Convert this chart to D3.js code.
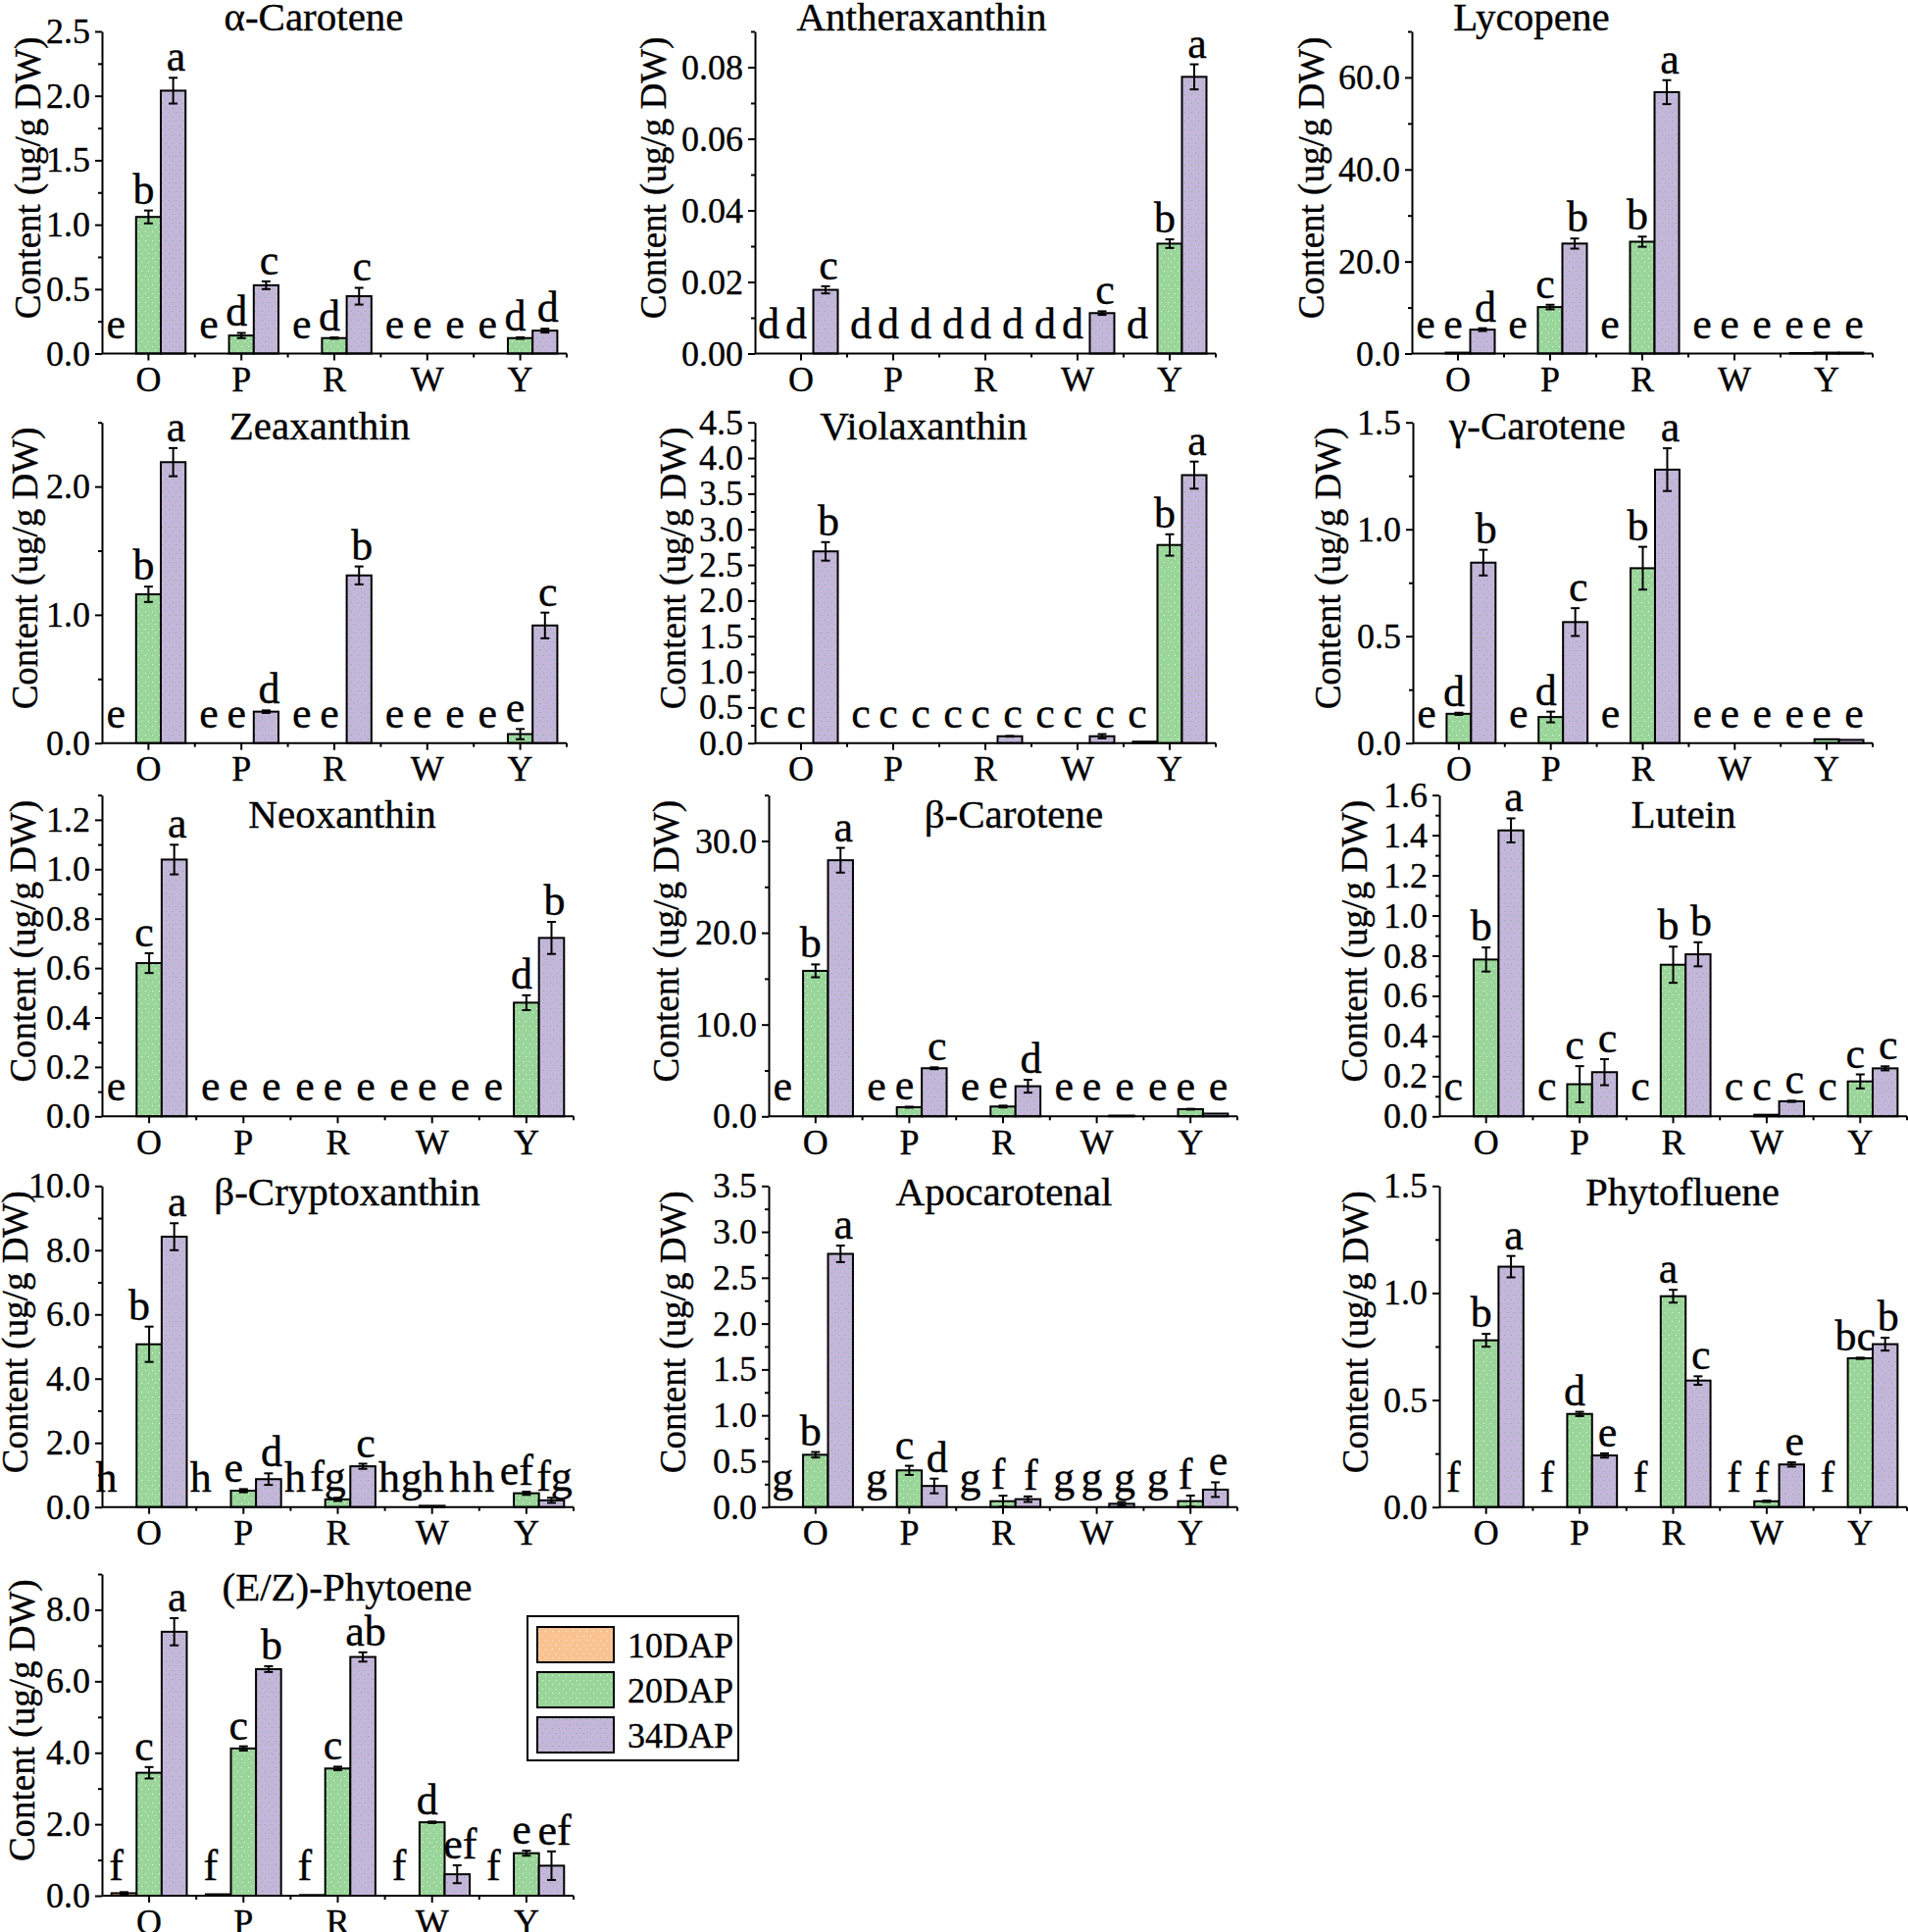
<!DOCTYPE html>
<html><head><meta charset="utf-8">
<script src="https://cdn.jsdelivr.net/npm/d3@7"></script>
<style>
body{margin:0;background:#fff}
svg{display:block}
text{font-family:"Liberation Serif","Times New Roman",serif;fill:#000;stroke:#000;stroke-width:0.35px}
</style>
</head><body>
<svg id="chart" width="1946" height="1970"></svg>
<script>
// ---------------- DATA ----------------
const categories = ["O","P","R","W","Y"];
const seriesNames = ["10DAP","20DAP","34DAP"];
const panelTitles = ["α-Carotene","Antheraxanthin","Lycopene","Zeaxanthin","Violaxanthin","γ-Carotene",
  "Neoxanthin","β-Carotene","Lutein","β-Cryptoxanthin","Apocarotenal","Phytofluene","(E/Z)-Phytoene"];
const yMaxes = [2.5, 0.09, 70, 2.5, 4.5, 1.5, 1.3, 35, 1.6, 10, 3.5, 1.5, 9];
const yTickLabels = [
  ["0.0","0.5","1.0","1.5","2.0","2.5"],
  ["0.00","0.02","0.04","0.06","0.08"],
  ["0.0","20.0","40.0","60.0"],
  ["0.0","1.0","2.0"],
  ["0.0","0.5","1.0","1.5","2.0","2.5","3.0","3.5","4.0","4.5"],
  ["0.0","0.5","1.0","1.5"],
  ["0.0","0.2","0.4","0.6","0.8","1.0","1.2"],
  ["0.0","10.0","20.0","30.0"],
  ["0.0","0.2","0.4","0.6","0.8","1.0","1.2","1.4","1.6"],
  ["0.0","2.0","4.0","6.0","8.0","10.0"],
  ["0.0","0.5","1.0","1.5","2.0","2.5","3.0","3.5"],
  ["0.0","0.5","1.0","1.5"],
  ["0.0","2.0","4.0","6.0","8.0"]
];
const yMinorSteps = [0.25, 0.01, 10, 0.5, 0.25, 0.25, 0.1, 5, 0.1, 1, 0.25, 0.25, 1];

// values per panel, per category O,P,R,W,Y
const values10 = [
  [0,0,0,0,0],[0,0,0,0,0],[0,0,0,0,0.1],[0,0,0,0,0],[0,0,0,0,0.02],[0,0,0,0,0],
  [0,0,0,0,0],[0,0,0,0,0],[0,0,0,0,0],[0,0,0,0,0],[0,0,0,0,0],[0,0,0,0,0],
  [0.07,0.04,0.02,0,0]
];
const values20 = [
  [1.06,0.14,0.12,0,0.12],
  [0,0,0,0,0.0307],
  [0.2,10.1,24.3,0,0.2],
  [1.16,0,0,0,0.07],
  [0,0,0,0,2.78],
  [0.137,0.122,0.818,0,0.018],
  [0.62,0,0,0,0.46],
  [15.85,1.0,1.07,0,0.78],
  [0.781,0.16,0.755,0.008,0.174],
  [5.07,0.51,0.24,0.04,0.43],
  [0.57,0.40,0.064,0,0.065],
  [0.779,0.435,0.985,0.027,0.695],
  [3.44,4.12,3.56,2.055,1.19]
];
const values34 = [
  [2.04,0.53,0.445,0,0.178],
  [0.0178,0,0,0.0113,0.0773],
  [5.2,23.9,56.8,0,0.2],
  [2.19,0.245,1.307,0,0.917],
  [2.69,0,0.096,0.096,3.76],
  [0.844,0.566,1.279,0,0.015],
  [1.039,0,0,0,0.722],
  [27.9,5.24,3.28,0.08,0.3],
  [1.424,0.22,0.807,0.075,0.239],
  [8.42,0.87,1.27,0,0.21],
  [2.76,0.23,0.086,0.036,0.19],
  [1.123,0.241,0.591,0.199,0.761],
  [7.385,6.34,6.68,0.6,0.84]
];
const errors10 = [
  [0,0,0,0,0],[0,0,0,0,0],[0,0,0,0,0],[0,0,0,0,0],[0,0,0,0,0],[0,0,0,0,0],
  [0,0,0,0,0],[0,0,0,0,0],[0,0,0,0,0],[0,0,0,0,0],[0,0,0,0,0],[0,0,0,0,0],
  [0.03,0,0,0,0]
];
const errors20 = [
  [0.05,0.02,0.005,0,0.006],
  [0,0,0,0,0.0012],
  [0,0.5,1.1,0,0],
  [0.06,0,0,0,0.04],
  [0,0,0,0,0.15],
  [0.005,0.025,0.1,0,0],
  [0.04,0,0,0,0.03],
  [0.7,0.05,0.1,0,0.04],
  [0.06,0.09,0.09,0,0.035],
  [0.55,0.05,0.05,0,0.05],
  [0.03,0.05,0.06,0,0.06],
  [0.03,0.01,0.03,0.003,0.003],
  [0.16,0.06,0.05,0.02,0.07]
];
const errors34 = [
  [0.1,0.03,0.065,0,0.015],
  [0.001,0,0,0.0005,0.0035],
  [0.3,1.1,2.6,0,0],
  [0.11,0.01,0.07,0,0.1],
  [0.13,0,0.005,0.03,0.19],
  [0.06,0.065,0.1,0,0],
  [0.06,0,0,0,0.065],
  [1.35,0.1,0.7,0,0],
  [0.06,0.065,0.06,0.003,0.01],
  [0.42,0.18,0.08,0,0.08],
  [0.09,0.08,0.03,0.02,0.08],
  [0.05,0.01,0.02,0.01,0.03],
  [0.38,0.08,0.13,0.25,0.4]
];
const letters10 = [
  ["e","e","e","e","e"],["d","d","d","d","d"],["e","e","e","e","e"],["e","e","e","e","e"],
  ["c","c","c","c","c"],["e","e","e","e","e"],["e","e","e","e","e"],["e","e","e","e","e"],
  ["c","c","c","c","c"],["h","h","h","h","h"],["g","g","g","g","g"],["f","f","f","f","f"],
  ["f","f","f","f","f"]
];
const letters20 = [
  ["b","d","d","e","d"],["d","d","d","d","b"],["e","c","b","e","e"],["b","e","e","e","e"],
  ["c","c","c","c","b"],["d","d","b","e","e"],["c","e","e","e","d"],["b","e","e","e","e"],
  ["b","c","b","c","c"],["b","e","fg","gh","ef"],["b","c","f","g","f"],["b","d","a","f","bc"],
  ["c","c","c","d","e"]
];
const letters34 = [
  ["a","c","c","e","d"],["c","d","d","c","a"],["d","b","a","e","e"],["a","d","b","e","c"],
  ["b","c","c","c","a"],["b","c","a","e","e"],["a","e","e","e","b"],["a","c","d","e","e"],
  ["a","c","b","c","c"],["a","d","c","h","fg"],["a","d","f","g","e"],["a","e","c","e","b"],
  ["a","b","ab","ef","ef"]
];
const yAxisTitle = "Content (ug/g DW)";

// ---------------- LAYOUT / STYLE ----------------
const layout = [
  {x0:104, x1:578, top:32,    bottom:360.5,  lab:76,  tx:320,  ty:31},
  {x0:770, x1:1240,top:32,    bottom:360.5,  lab:104, tx:940,  ty:31},
  {x0:1440,x1:1910,top:32,    bottom:360.5,  lab:103, tx:1562, ty:31},
  {x0:104, x1:578, top:430.7, bottom:757.7,  lab:79,  tx:326,  ty:448},
  {x0:770, x1:1240,top:430.7, bottom:757.7,  lab:84,  tx:942,  ty:448},
  {x0:1441,x1:1910,top:430.7, bottom:757.7,  lab:87,  tx:1568, ty:448},
  {x0:104, x1:585, top:810.7, bottom:1138.3, lab:81,  tx:349,  ty:844},
  {x0:784, x1:1262,top:810.7, bottom:1138.3, lab:105, tx:1034, ty:844},
  {x0:1468,x1:1945,top:810.7, bottom:1138.3, lab:87,  tx:1717, ty:844},
  {x0:104, x1:585, top:1209.3,bottom:1536.7, lab:89,  tx:354,  ty:1229, s10:-18, s20:-10},
  {x0:784, x1:1262,top:1209.3,bottom:1536.7, lab:98,  tx:1024, ty:1229},
  {x0:1468,x1:1945,top:1209.3,bottom:1536.7, lab:86,  tx:1716, ty:1229},
  {x0:104, x1:585, top:1605,  bottom:1933,   lab:82,  tx:354,  ty:1632}
];
const colors = {"10DAP":"#F8C391","20DAP":"#9AD59A","34DAP":"#C4B6DA"};
const dotColors = {"10DAP":"#ffffff","20DAP":"#ffffff","34DAP":"#5fbf5f"};
const FONT = '"Liberation Serif","Times New Roman",serif';

const svg = d3.select("#chart");
const defs = svg.append("defs");
seriesNames.forEach((s,i)=>{
  const p = defs.append("pattern").attr("id","pat"+i).attr("patternUnits","userSpaceOnUse")
    .attr("width",7).attr("height",9);
  p.append("rect").attr("width",7).attr("height",9).attr("fill",colors[s]);
  p.append("rect").attr("x",1).attr("y",2).attr("width",1).attr("height",1).attr("fill",dotColors[s]).attr("opacity",0.8);
  p.append("rect").attr("x",4).attr("y",6).attr("width",1).attr("height",1).attr("fill",dotColors[s]).attr("opacity",0.8);
});

const allValues = [values10, values20, values34];
const allErrors = [errors10, errors20, errors34];
const allLetters = [letters10, letters20, letters34];

panelTitles.forEach((title, pi) => {
  const L = layout[pi];
  const shifts = [L.s10 ?? -8, L.s20 ?? -5, 3];
  const g = svg.append("g");
  const x = d3.scaleBand().domain(categories).range([L.x0, L.x1]).padding(0);
  const y = d3.scaleLinear().domain([0, yMaxes[pi]]).range([L.bottom, L.top]);
  const bw = x.bandwidth()*0.266;

  // bars
  categories.forEach((c, ci) => {
    const cx = x(c) + x.bandwidth()/2;
    const sub = d3.scaleBand().domain(seriesNames).range([cx-1.5*bw, cx+1.5*bw]).padding(0);
    seriesNames.forEach((s, si) => {
      const v = allValues[si][pi][ci];
      const e = allErrors[si][pi][ci];
      const bx = sub(s);
      if (v > 0) {
        g.append("rect").attr("x", bx).attr("y", y(v)).attr("width", sub.bandwidth())
          .attr("height", Math.max(0, y(0)-y(v))).attr("fill", `url(#pat${si})`)
          .attr("stroke","#000").attr("stroke-width",2);
      }
      const mx = bx + sub.bandwidth()/2;
      if (e > 0) {
        g.append("line").attr("x1",mx).attr("x2",mx).attr("y1",y(v-e)).attr("y2",y(v+e))
          .attr("stroke","#000").attr("stroke-width",2);
        [v-e, v+e].forEach(t=>g.append("line").attr("x1",mx-4.5).attr("x2",mx+4.5)
          .attr("y1",y(t)).attr("y2",y(t)).attr("stroke","#000").attr("stroke-width",2));
      }
      const ly = Math.min(y(v+e) - 7, y(0) - 16);
      g.append("text").attr("x", mx + shifts[si]).attr("y", ly).attr("text-anchor","middle")
        .attr("font-size",44).text(allLetters[si][pi][ci]);
    });
  });

  // y axis major
  const majors = yTickLabels[pi].map(Number);
  const yAxis = d3.axisLeft(y).tickValues(majors).tickSize(7).tickSizeOuter(0)
    .tickFormat((d,i)=>yTickLabels[pi][i]).tickPadding(5);
  const ya = g.append("g").attr("transform",`translate(${L.x0},0)`).call(yAxis);
  ya.select(".domain").attr("stroke-width",2);
  ya.selectAll(".tick line").attr("stroke-width",2);
  ya.selectAll("text").attr("font-size",36).attr("font-family",FONT);
  // y axis minor
  const step = yMinorSteps[pi];
  const minors = d3.range(0, yMaxes[pi] + step*0.01, step).filter(t => !majors.some(m => Math.abs(m-t) < step*0.01));
  const ym = g.append("g").attr("transform",`translate(${L.x0},0)`)
    .call(d3.axisLeft(y).tickValues(minors).tickSize(4).tickSizeOuter(0).tickFormat(""));
  ym.select(".domain").remove();
  ym.selectAll(".tick line").attr("stroke-width",2);

  // x axis
  const xa = g.append("g").attr("transform",`translate(0,${L.bottom})`)
    .call(d3.axisBottom(x).tickSize(7).tickSizeOuter(0).tickPadding(6));
  xa.select(".domain").attr("stroke-width",2).attr("d", `M${L.x0},0H${L.x1}`);
  xa.selectAll(".tick line").attr("stroke-width",2);
  xa.selectAll("text").attr("font-size",36).attr("font-family",FONT);
  // x minor ticks at band boundaries
  const bounds = categories.map(c => x(c)).concat([L.x1]).slice(1);
  g.selectAll(null).data(bounds).enter().append("line")
    .attr("x1",d=>d).attr("x2",d=>d).attr("y1",L.bottom).attr("y2",L.bottom+4)
    .attr("stroke","#000").attr("stroke-width",2);

  // title
  g.append("text").attr("x",L.tx).attr("y",L.ty).attr("text-anchor","middle")
    .attr("font-size",41).text(title);
  // y label
  const lyc = L.top + 0.455*(L.bottom - L.top);
  g.append("text").attr("transform",`translate(${L.x0 - L.lab + 13},${lyc}) rotate(-90)`)
    .attr("text-anchor","middle").attr("font-size",37).text(yAxisTitle);
});

// legend
const lg = svg.append("g").attr("transform","translate(538,1648)");
lg.append("rect").attr("width",215).attr("height",147).attr("fill","#fff").attr("stroke","#000").attr("stroke-width",2);
seriesNames.forEach((s,i)=>{
  lg.append("rect").attr("x",10).attr("y",11+i*46).attr("width",78).attr("height",36)
    .attr("fill",`url(#pat${i})`).attr("stroke","#000").attr("stroke-width",2);
  lg.append("text").attr("x",102).attr("y",11+i*46+31).attr("font-size",36).text(s);
});
</script>
</body></html>
